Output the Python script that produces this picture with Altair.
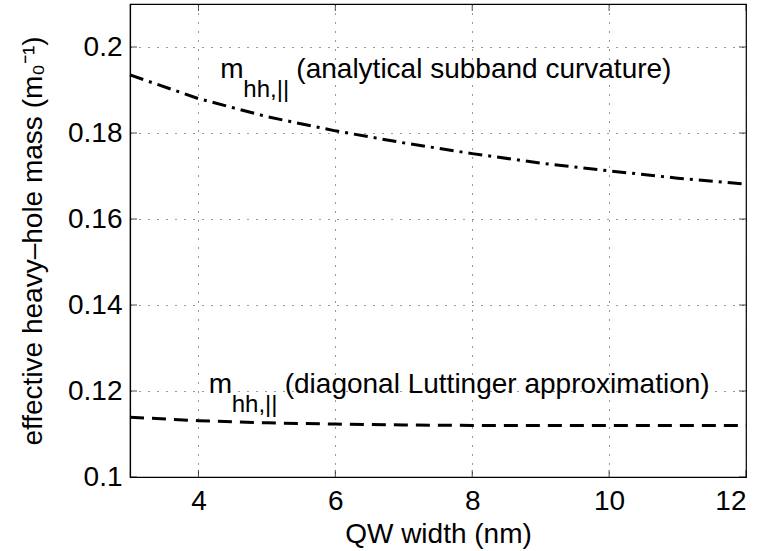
import altair as alt
import pandas as pd

# QW width (nm)
widths = [3, 4, 5, 6, 7, 8, 9, 10, 11, 12]
# effective heavy-hole mass (1/m0)
m_analytical = [0.1935, 0.1880, 0.1838, 0.1805, 0.1777, 0.1752, 0.1730, 0.1712, 0.1695, 0.1681]
m_luttinger = [0.1139, 0.1131, 0.1126, 0.1123, 0.1121, 0.1120, 0.1120, 0.1120, 0.1120, 0.1120]

x_ticks = [4, 6, 8, 10, 12]
y_ticks = [0.1, 0.12, 0.14, 0.16, 0.18, 0.2]
x_domain = [3, 12]
y_domain = [0.1, 0.21]

ann_text = ["(analytical subband curvature)", "(diagonal Luttinger approximation)"]
ann_x = [4.32, 4.15]
ann_y = [0.1947, 0.1214]

FONT = "Liberation Sans"

df_a = pd.DataFrame({"w": widths, "m": m_analytical})
df_l = pd.DataFrame({"w": widths, "m": m_luttinger})
df_ann = pd.DataFrame({"x": ann_x, "y": ann_y, "t": ann_text,
                       "m": ["m", "m"], "sub": ["hh,||", "hh,||"]})
df_xt = pd.DataFrame({"x": x_ticks + x_ticks,
                      "y": [y_domain[0]] * len(x_ticks) + [y_domain[1]] * len(x_ticks),
                      "side": ["b"] * len(x_ticks) + ["t"] * len(x_ticks)})
df_yt = pd.DataFrame({"y": y_ticks + y_ticks,
                      "x": [x_domain[0]] * len(y_ticks) + [x_domain[1]] * len(y_ticks),
                      "side": ["l"] * len(y_ticks) + ["r"] * len(y_ticks)})

xs = alt.Scale(domain=x_domain, nice=False, zero=False)
ys = alt.Scale(domain=y_domain, nice=False, zero=False)

x_axis = alt.Axis(values=x_ticks, title="QW width (nm)", format="d")
y_axis = alt.Axis(values=y_ticks, title="effective heavy–hole mass (m₀⁻¹)",
                  labelExpr="datum.value == 0.1 ? '0.1' : datum.value == 0.2 ? '0.2' : format(datum.value, '.2f')")

line_a = alt.Chart(df_a).mark_line(color="black", strokeWidth=3, strokeDash=[14, 6, 3, 6]).encode(
    x=alt.X("w:Q", scale=xs, axis=x_axis),
    y=alt.Y("m:Q", scale=ys, axis=y_axis),
)
line_l = alt.Chart(df_l).mark_line(color="black", strokeWidth=3, strokeDash=[14, 8]).encode(
    x=alt.X("w:Q", scale=xs),
    y=alt.Y("m:Q", scale=ys),
)

# inward tick marks (MATLAB style) on all four sides
tb = alt.Chart(df_xt[df_xt.side == "b"]).mark_tick(orient="vertical", size=7, thickness=1, color="black",
                                                    yOffset=-3.5).encode(x=alt.X("x:Q", scale=xs), y=alt.Y("y:Q", scale=ys))
tt = alt.Chart(df_xt[df_xt.side == "t"]).mark_tick(orient="vertical", size=7, thickness=1, color="black",
                                                    yOffset=3.5).encode(x=alt.X("x:Q", scale=xs), y=alt.Y("y:Q", scale=ys))
tl = alt.Chart(df_yt[df_yt.side == "l"]).mark_tick(orient="horizontal", size=7, thickness=1, color="black",
                                                    xOffset=3.5).encode(x=alt.X("x:Q", scale=xs), y=alt.Y("y:Q", scale=ys))
tr = alt.Chart(df_yt[df_yt.side == "r"]).mark_tick(orient="horizontal", size=7, thickness=1, color="black",
                                                    xOffset=-3.5).encode(x=alt.X("x:Q", scale=xs), y=alt.Y("y:Q", scale=ys))

base_ann = alt.Chart(df_ann).encode(
    x=alt.X("x:Q", scale=xs),
    y=alt.Y("y:Q", scale=ys),
)
t_m = base_ann.mark_text(align="left", baseline="middle", font=FONT, fontSize=28, color="black").encode(text="m:N")
t_sub = base_ann.mark_text(align="left", baseline="middle", font=FONT, fontSize=24, color="black",
                           dx=23, dy=20).encode(text="sub:N")
t_main = base_ann.mark_text(align="left", baseline="middle", font=FONT, fontSize=28, color="black",
                            dx=76).encode(text="t:N")

chart = alt.layer(line_a, line_l, tb, tt, tl, tr, t_m, t_sub, t_main).properties(
    width=616, height=473,
    background="white",
    autosize=alt.AutoSizeParams(type="none"),
    padding={"left": 130, "top": 4, "right": 18, "bottom": 74},
).configure_view(
    stroke="black", strokeWidth=1.2
).configure_axis(
    labelFont=FONT, titleFont=FONT, labelFontSize=28, titleFontSize=28,
    labelColor="black", titleColor="black", titleFontWeight="normal",
    domainColor="black", domainWidth=1.2, ticks=False,
    grid=True, gridColor="black", gridOpacity=0.8, gridWidth=1, gridDash=[1, 8],
    labelPadding=8,
).configure_axisX(
    labelPadding=10, titlePadding=5,
).configure_axisY(
    titlePadding=20,
)

chart.save("out.html", embed_options={"renderer": "svg", "actions": False})
